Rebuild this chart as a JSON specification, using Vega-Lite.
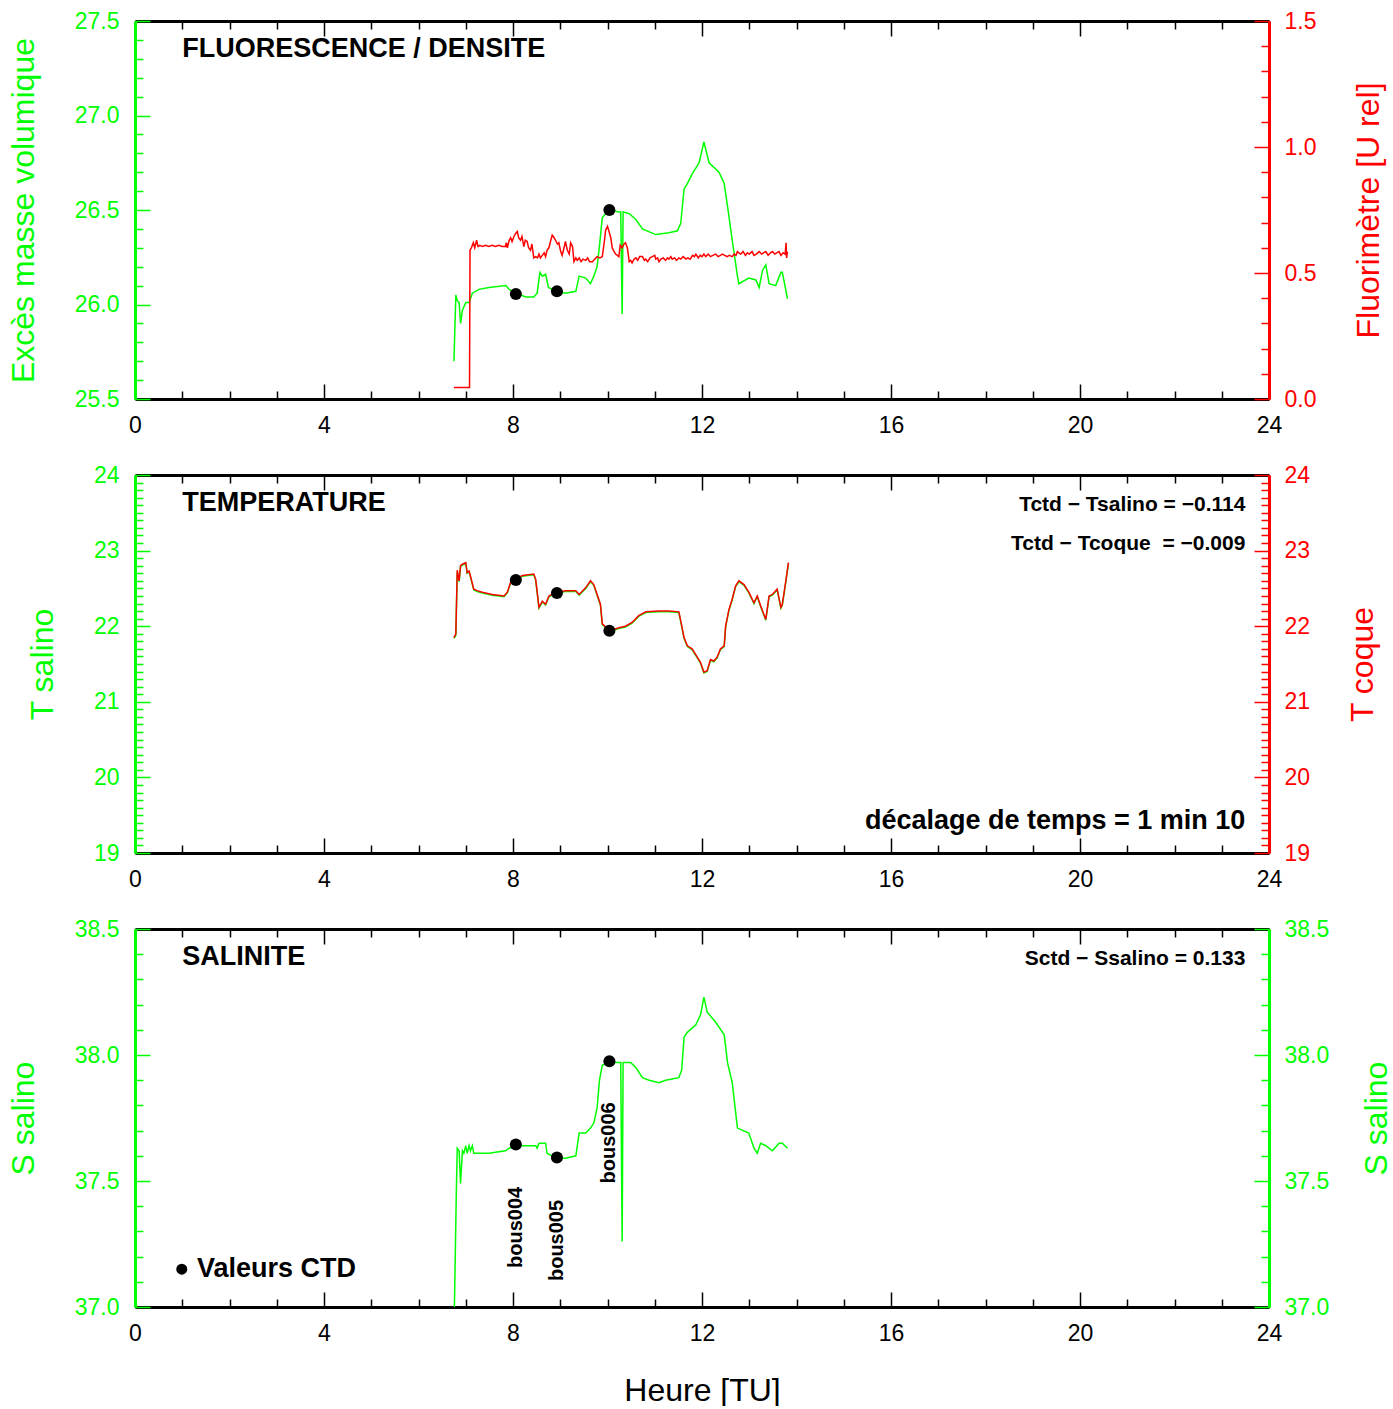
{
  "$schema": "https://vega.github.io/schema/vega-lite/v6.json",
  "padding": {"left": 7, "top": 10, "right": 0, "bottom": 0},
  "background": "white",
  "config": {
    "view": {"stroke": null},
    "axis": {"labelFont": "Liberation Sans", "labelFontSize": 23, "titleFont": "Liberation Sans", "titleFontSize": 32, "titleFontWeight": "normal", "grid": false, "labelFlush": false, "labelOverlap": false, "labelBound": false, "tickWidth": 1.5, "domainWidth": 3},
    "text": {"font": "Liberation Sans", "fontWeight": "bold", "color": "black", "baseline": "middle"}
  },
  "datasets": {
    "dens": [
      {"h": 6.75, "v": 25.70}, {"h": 6.79, "v": 26.05}, {"h": 6.82, "v": 26.02}, {"h": 6.86, "v": 26.01}, {"h": 6.89, "v": 25.90},
      {"h": 6.93, "v": 25.97}, {"h": 7.00, "v": 26.01}, {"h": 7.07, "v": 26.01}, {"h": 7.14, "v": 26.06}, {"h": 7.28, "v": 26.08},
      {"h": 7.49, "v": 26.09}, {"h": 7.85, "v": 26.10}, {"h": 7.92, "v": 26.08}, {"h": 8.06, "v": 26.06}, {"h": 8.27, "v": 26.04},
      {"h": 8.44, "v": 26.04}, {"h": 8.51, "v": 26.06}, {"h": 8.57, "v": 26.17}, {"h": 8.62, "v": 26.15}, {"h": 8.69, "v": 26.16},
      {"h": 8.75, "v": 26.09}, {"h": 8.83, "v": 26.08}, {"h": 8.92, "v": 26.07}, {"h": 9.11, "v": 26.06}, {"h": 9.33, "v": 26.07},
      {"h": 9.40, "v": 26.15}, {"h": 9.54, "v": 26.14}, {"h": 9.64, "v": 26.11}, {"h": 9.71, "v": 26.15}, {"h": 9.78, "v": 26.20},
      {"h": 9.83, "v": 26.31}, {"h": 9.89, "v": 26.46}, {"h": 9.96, "v": 26.48}, {"h": 10.05, "v": 26.50}, {"h": 10.24, "v": 26.49},
      {"h": 10.28, "v": 26.49}, {"h": 10.31, "v": 25.95}, {"h": 10.33, "v": 26.49}, {"h": 10.46, "v": 26.48}, {"h": 10.60, "v": 26.45},
      {"h": 10.74, "v": 26.40}, {"h": 11.02, "v": 26.37}, {"h": 11.30, "v": 26.38}, {"h": 11.48, "v": 26.39}, {"h": 11.55, "v": 26.43},
      {"h": 11.62, "v": 26.61}, {"h": 11.69, "v": 26.64}, {"h": 11.79, "v": 26.69}, {"h": 11.94, "v": 26.75}, {"h": 12.04, "v": 26.86},
      {"h": 12.15, "v": 26.75}, {"h": 12.36, "v": 26.70}, {"h": 12.47, "v": 26.64}, {"h": 12.54, "v": 26.52}, {"h": 12.64, "v": 26.34},
      {"h": 12.75, "v": 26.15}, {"h": 12.78, "v": 26.11}, {"h": 12.99, "v": 26.14}, {"h": 13.14, "v": 26.13}, {"h": 13.21, "v": 26.09},
      {"h": 13.28, "v": 26.18}, {"h": 13.35, "v": 26.21}, {"h": 13.42, "v": 26.11}, {"h": 13.56, "v": 26.10}, {"h": 13.67, "v": 26.17},
      {"h": 13.70, "v": 26.17}, {"h": 13.81, "v": 26.03}
    ],
    "fluo": [
      {"h": 6.75, "v": 0.046}, {"h": 7.08, "v": 0.046}, {"h": 7.09, "v": 0.59}, {"h": 7.12, "v": 0.60}, {"h": 7.16, "v": 0.62},
      {"h": 7.19, "v": 0.60}, {"h": 7.23, "v": 0.63}, {"h": 7.26, "v": 0.605}, {"h": 7.30, "v": 0.61}, {"h": 7.35, "v": 0.605},
      {"h": 7.42, "v": 0.61}, {"h": 7.49, "v": 0.605}, {"h": 7.56, "v": 0.61}, {"h": 7.63, "v": 0.605}, {"h": 7.70, "v": 0.61},
      {"h": 7.77, "v": 0.605}, {"h": 7.84, "v": 0.605}, {"h": 7.86, "v": 0.62}, {"h": 7.88, "v": 0.60}, {"h": 7.92, "v": 0.63},
      {"h": 7.95, "v": 0.64}, {"h": 7.98, "v": 0.625}, {"h": 8.02, "v": 0.645}, {"h": 8.05, "v": 0.655}, {"h": 8.09, "v": 0.665},
      {"h": 8.12, "v": 0.64}, {"h": 8.16, "v": 0.63}, {"h": 8.19, "v": 0.645}, {"h": 8.23, "v": 0.605}, {"h": 8.26, "v": 0.63},
      {"h": 8.30, "v": 0.625}, {"h": 8.33, "v": 0.60}, {"h": 8.37, "v": 0.59}, {"h": 8.40, "v": 0.615}, {"h": 8.44, "v": 0.56},
      {"h": 8.48, "v": 0.565}, {"h": 8.52, "v": 0.56}, {"h": 8.55, "v": 0.575}, {"h": 8.58, "v": 0.56}, {"h": 8.62, "v": 0.57},
      {"h": 8.66, "v": 0.58}, {"h": 8.69, "v": 0.565}, {"h": 8.72, "v": 0.59}, {"h": 8.76, "v": 0.60}, {"h": 8.80, "v": 0.63},
      {"h": 8.83, "v": 0.65}, {"h": 8.87, "v": 0.64}, {"h": 8.90, "v": 0.63}, {"h": 8.94, "v": 0.615}, {"h": 8.97, "v": 0.62},
      {"h": 9.01, "v": 0.585}, {"h": 9.04, "v": 0.57}, {"h": 9.08, "v": 0.60}, {"h": 9.11, "v": 0.625}, {"h": 9.15, "v": 0.59},
      {"h": 9.19, "v": 0.575}, {"h": 9.22, "v": 0.62}, {"h": 9.26, "v": 0.605}, {"h": 9.29, "v": 0.545}, {"h": 9.33, "v": 0.56},
      {"h": 9.36, "v": 0.55}, {"h": 9.40, "v": 0.56}, {"h": 9.44, "v": 0.545}, {"h": 9.48, "v": 0.555}, {"h": 9.54, "v": 0.55},
      {"h": 9.58, "v": 0.56}, {"h": 9.62, "v": 0.545}, {"h": 9.68, "v": 0.545}, {"h": 9.73, "v": 0.555}, {"h": 9.78, "v": 0.565},
      {"h": 9.84, "v": 0.56}, {"h": 9.89, "v": 0.565}, {"h": 9.93, "v": 0.62}, {"h": 9.96, "v": 0.67}, {"h": 10.00, "v": 0.685},
      {"h": 10.04, "v": 0.66}, {"h": 10.07, "v": 0.64}, {"h": 10.10, "v": 0.60}, {"h": 10.14, "v": 0.585}, {"h": 10.17, "v": 0.575},
      {"h": 10.21, "v": 0.57}, {"h": 10.24, "v": 0.565}, {"h": 10.27, "v": 0.61}, {"h": 10.31, "v": 0.60}, {"h": 10.35, "v": 0.615},
      {"h": 10.38, "v": 0.62}, {"h": 10.42, "v": 0.60}, {"h": 10.46, "v": 0.545}, {"h": 10.49, "v": 0.55}, {"h": 10.52, "v": 0.54},
      {"h": 10.56, "v": 0.555}, {"h": 10.60, "v": 0.56}, {"h": 10.64, "v": 0.55}, {"h": 10.68, "v": 0.565}, {"h": 10.74, "v": 0.565},
      {"h": 10.78, "v": 0.55}, {"h": 10.81, "v": 0.555}, {"h": 10.85, "v": 0.545}, {"h": 10.90, "v": 0.56}, {"h": 10.95, "v": 0.565},
      {"h": 11.00, "v": 0.57}, {"h": 11.02, "v": 0.555}, {"h": 11.06, "v": 0.56}, {"h": 11.09, "v": 0.545}, {"h": 11.13, "v": 0.555},
      {"h": 11.18, "v": 0.56}, {"h": 11.23, "v": 0.55}, {"h": 11.27, "v": 0.56}, {"h": 11.30, "v": 0.555}, {"h": 11.34, "v": 0.565},
      {"h": 11.37, "v": 0.555}, {"h": 11.42, "v": 0.56}, {"h": 11.46, "v": 0.55}, {"h": 11.51, "v": 0.56}, {"h": 11.55, "v": 0.555},
      {"h": 11.60, "v": 0.565}, {"h": 11.66, "v": 0.555}, {"h": 11.70, "v": 0.56}, {"h": 11.75, "v": 0.555}, {"h": 11.80, "v": 0.57},
      {"h": 11.84, "v": 0.565}, {"h": 11.87, "v": 0.575}, {"h": 11.92, "v": 0.56}, {"h": 11.96, "v": 0.57}, {"h": 12.00, "v": 0.565},
      {"h": 12.04, "v": 0.575}, {"h": 12.08, "v": 0.565}, {"h": 12.13, "v": 0.575}, {"h": 12.18, "v": 0.565}, {"h": 12.23, "v": 0.57},
      {"h": 12.29, "v": 0.575}, {"h": 12.34, "v": 0.565}, {"h": 12.39, "v": 0.57}, {"h": 12.43, "v": 0.575}, {"h": 12.48, "v": 0.57},
      {"h": 12.53, "v": 0.565}, {"h": 12.58, "v": 0.57}, {"h": 12.64, "v": 0.565}, {"h": 12.68, "v": 0.575}, {"h": 12.72, "v": 0.57},
      {"h": 12.75, "v": 0.585}, {"h": 12.78, "v": 0.58}, {"h": 12.82, "v": 0.575}, {"h": 12.87, "v": 0.585}, {"h": 12.92, "v": 0.57},
      {"h": 12.96, "v": 0.58}, {"h": 13.00, "v": 0.575}, {"h": 13.06, "v": 0.585}, {"h": 13.10, "v": 0.57}, {"h": 13.15, "v": 0.575},
      {"h": 13.21, "v": 0.585}, {"h": 13.26, "v": 0.575}, {"h": 13.30, "v": 0.58}, {"h": 13.35, "v": 0.585}, {"h": 13.40, "v": 0.57},
      {"h": 13.45, "v": 0.58}, {"h": 13.49, "v": 0.585}, {"h": 13.54, "v": 0.575}, {"h": 13.58, "v": 0.58}, {"h": 13.63, "v": 0.585},
      {"h": 13.67, "v": 0.57}, {"h": 13.72, "v": 0.58}, {"h": 13.76, "v": 0.575}, {"h": 13.78, "v": 0.62}, {"h": 13.79, "v": 0.56},
      {"h": 13.81, "v": 0.585}
    ],
    "temp": [
      {"h": 6.75, "ts": 21.84, "tc": 21.85}, {"h": 6.79, "ts": 21.88, "tc": 21.90}, {"h": 6.82, "ts": 22.72, "tc": 22.74},
      {"h": 6.86, "ts": 22.59, "tc": 22.60}, {"h": 6.89, "ts": 22.79, "tc": 22.80}, {"h": 6.93, "ts": 22.81, "tc": 22.82},
      {"h": 7.00, "ts": 22.83, "tc": 22.84}, {"h": 7.03, "ts": 22.70, "tc": 22.71}, {"h": 7.07, "ts": 22.72, "tc": 22.73},
      {"h": 7.10, "ts": 22.65, "tc": 22.66}, {"h": 7.17, "ts": 22.48, "tc": 22.49}, {"h": 7.24, "ts": 22.46, "tc": 22.47},
      {"h": 7.35, "ts": 22.44, "tc": 22.45}, {"h": 7.56, "ts": 22.41, "tc": 22.42}, {"h": 7.81, "ts": 22.39, "tc": 22.40},
      {"h": 7.88, "ts": 22.44, "tc": 22.45}, {"h": 7.95, "ts": 22.57, "tc": 22.58}, {"h": 8.06, "ts": 22.61, "tc": 22.62},
      {"h": 8.20, "ts": 22.66, "tc": 22.67}, {"h": 8.44, "ts": 22.68, "tc": 22.69}, {"h": 8.48, "ts": 22.61, "tc": 22.62},
      {"h": 8.55, "ts": 22.24, "tc": 22.25}, {"h": 8.62, "ts": 22.32, "tc": 22.33}, {"h": 8.69, "ts": 22.28, "tc": 22.29},
      {"h": 8.76, "ts": 22.39, "tc": 22.40}, {"h": 8.92, "ts": 22.44, "tc": 22.45}, {"h": 9.11, "ts": 22.46, "tc": 22.47},
      {"h": 9.33, "ts": 22.46, "tc": 22.47}, {"h": 9.40, "ts": 22.41, "tc": 22.42}, {"h": 9.54, "ts": 22.50, "tc": 22.51},
      {"h": 9.64, "ts": 22.59, "tc": 22.60}, {"h": 9.71, "ts": 22.54, "tc": 22.55}, {"h": 9.78, "ts": 22.41, "tc": 22.42},
      {"h": 9.85, "ts": 22.28, "tc": 22.29}, {"h": 9.89, "ts": 22.02, "tc": 22.03}, {"h": 10.05, "ts": 21.93, "tc": 21.94},
      {"h": 10.24, "ts": 21.97, "tc": 21.98}, {"h": 10.38, "ts": 21.99, "tc": 22.00}, {"h": 10.52, "ts": 22.04, "tc": 22.05},
      {"h": 10.66, "ts": 22.13, "tc": 22.14}, {"h": 10.81, "ts": 22.18, "tc": 22.19}, {"h": 11.09, "ts": 22.19, "tc": 22.20},
      {"h": 11.30, "ts": 22.19, "tc": 22.20}, {"h": 11.51, "ts": 22.18, "tc": 22.19}, {"h": 11.55, "ts": 22.06, "tc": 22.07},
      {"h": 11.62, "ts": 21.84, "tc": 21.85}, {"h": 11.69, "ts": 21.73, "tc": 21.74}, {"h": 11.79, "ts": 21.69, "tc": 21.70},
      {"h": 11.90, "ts": 21.58, "tc": 21.59}, {"h": 11.97, "ts": 21.51, "tc": 21.52}, {"h": 12.04, "ts": 21.38, "tc": 21.39},
      {"h": 12.11, "ts": 21.40, "tc": 21.41}, {"h": 12.18, "ts": 21.55, "tc": 21.56}, {"h": 12.25, "ts": 21.53, "tc": 21.54},
      {"h": 12.32, "ts": 21.58, "tc": 21.59}, {"h": 12.39, "ts": 21.69, "tc": 21.70}, {"h": 12.47, "ts": 21.73, "tc": 21.74},
      {"h": 12.50, "ts": 21.99, "tc": 22.00}, {"h": 12.57, "ts": 22.21, "tc": 22.22}, {"h": 12.64, "ts": 22.35, "tc": 22.36},
      {"h": 12.71, "ts": 22.52, "tc": 22.53}, {"h": 12.78, "ts": 22.59, "tc": 22.60}, {"h": 12.89, "ts": 22.54, "tc": 22.55},
      {"h": 12.99, "ts": 22.44, "tc": 22.45}, {"h": 13.10, "ts": 22.30, "tc": 22.31}, {"h": 13.17, "ts": 22.39, "tc": 22.40},
      {"h": 13.24, "ts": 22.26, "tc": 22.27}, {"h": 13.35, "ts": 22.08, "tc": 22.09}, {"h": 13.42, "ts": 22.39, "tc": 22.40},
      {"h": 13.49, "ts": 22.41, "tc": 22.42}, {"h": 13.56, "ts": 22.46, "tc": 22.47}, {"h": 13.59, "ts": 22.48, "tc": 22.49},
      {"h": 13.67, "ts": 22.24, "tc": 22.25}, {"h": 13.70, "ts": 22.28, "tc": 22.29}, {"h": 13.77, "ts": 22.57, "tc": 22.58},
      {"h": 13.83, "ts": 22.83, "tc": 22.84}
    ],
    "sal": [
      {"h": 6.76, "s": 37.00}, {"h": 6.80, "s": 37.45}, {"h": 6.82, "s": 37.63}, {"h": 6.86, "s": 37.62}, {"h": 6.89, "s": 37.49},
      {"h": 6.93, "s": 37.62}, {"h": 6.96, "s": 37.61}, {"h": 7.00, "s": 37.64}, {"h": 7.03, "s": 37.61}, {"h": 7.07, "s": 37.64},
      {"h": 7.10, "s": 37.62}, {"h": 7.14, "s": 37.64}, {"h": 7.17, "s": 37.61}, {"h": 7.49, "s": 37.61}, {"h": 7.84, "s": 37.62},
      {"h": 7.92, "s": 37.63}, {"h": 8.06, "s": 37.64}, {"h": 8.27, "s": 37.64}, {"h": 8.48, "s": 37.64}, {"h": 8.51, "s": 37.63},
      {"h": 8.55, "s": 37.65}, {"h": 8.69, "s": 37.65}, {"h": 8.72, "s": 37.61}, {"h": 8.92, "s": 37.59}, {"h": 9.11, "s": 37.59},
      {"h": 9.33, "s": 37.60}, {"h": 9.40, "s": 37.69}, {"h": 9.54, "s": 37.69}, {"h": 9.64, "s": 37.71}, {"h": 9.71, "s": 37.73},
      {"h": 9.78, "s": 37.79}, {"h": 9.83, "s": 37.90}, {"h": 9.89, "s": 37.96}, {"h": 10.05, "s": 37.97}, {"h": 10.24, "s": 37.97},
      {"h": 10.28, "s": 37.97}, {"h": 10.31, "s": 37.26}, {"h": 10.33, "s": 37.97}, {"h": 10.49, "s": 37.97}, {"h": 10.60, "s": 37.95},
      {"h": 10.74, "s": 37.91}, {"h": 10.88, "s": 37.90}, {"h": 11.09, "s": 37.89}, {"h": 11.23, "s": 37.90}, {"h": 11.51, "s": 37.91},
      {"h": 11.57, "s": 37.94}, {"h": 11.62, "s": 38.07}, {"h": 11.69, "s": 38.09}, {"h": 11.87, "s": 38.12}, {"h": 11.97, "s": 38.16},
      {"h": 12.04, "s": 38.23}, {"h": 12.11, "s": 38.17}, {"h": 12.29, "s": 38.13}, {"h": 12.47, "s": 38.08}, {"h": 12.54, "s": 37.97},
      {"h": 12.64, "s": 37.89}, {"h": 12.75, "s": 37.71}, {"h": 12.99, "s": 37.69}, {"h": 13.10, "s": 37.63}, {"h": 13.17, "s": 37.61},
      {"h": 13.24, "s": 37.65}, {"h": 13.35, "s": 37.64}, {"h": 13.49, "s": 37.62}, {"h": 13.63, "s": 37.65}, {"h": 13.70, "s": 37.65},
      {"h": 13.81, "s": 37.63}
    ],
    "ctd": [
      {"name": "bous004", "h": 8.06, "dens": 26.056, "t": 22.61, "s": 37.645, "ly": 37.155},
      {"name": "bous005", "h": 8.93, "dens": 26.07, "t": 22.44, "s": 37.593, "ly": 37.103},
      {"name": "bous006", "h": 10.04, "dens": 26.50, "t": 21.94, "s": 37.975, "ly": 37.49}
    ],
    "titles": [
      {"panel": 1, "h": 1.0, "v": 27.35, "text": "FLUORESCENCE / DENSITE"},
      {"panel": 2, "h": 1.0, "v": 23.63, "text": "TEMPERATURE"},
      {"panel": 3, "h": 1.0, "v": 38.39, "text": "SALINITE"}
    ],
    "stats": [
      {"panel": 2, "h": 23.5, "v": 23.60, "text": "Tctd − Tsalino = −0.114"},
      {"panel": 2, "h": 23.5, "v": 23.09, "text": "Tctd − Tcoque\u00a0 = −0.009"},
      {"panel": 3, "h": 23.5, "v": 38.38, "text": "Sctd − Ssalino = 0.133"}
    ],
    "lag": [{"h": 23.5, "v": 19.42, "text": "décalage de temps = 1 min 10"}],
    "legdot": [{"h": 0.99, "v": 37.15}],
    "legtext": [{"h": 1.31, "v": 37.15, "text": "Valeurs CTD"}]
  },
  "vconcat": [
    {
      "width": 1134, "height": 378,
      "layer": [
        {
          "layer": [
            {
              "data": {"name": "dens"},
              "mark": {"type": "line", "color": "#00ff00", "strokeWidth": 1.5},
              "encoding": {
                "x": {"field": "h", "type": "quantitative", "scale": {"domain": [0, 24], "nice": false, "zero": false},
                  "axis": {"orient": "bottom", "values": [0, 4, 8, 12, 16, 20, 24], "ticks": false, "domain": true, "domainColor": "black", "labelColor": "black", "labelPadding": 15, "title": null}},
                "y": {"field": "v", "type": "quantitative", "scale": {"domain": [25.5, 27.5], "nice": false, "zero": false},
                  "axis": {"orient": "left", "values": [25.5, 26, 26.5, 27, 27.5], "format": ".1f", "ticks": false, "domain": true, "domainColor": "#00ff00", "labelColor": "#00ff00", "labelPadding": 16, "title": "Excès masse volumique", "titleColor": "#00ff00", "titlePadding": 34}}
              }
            },
            {
              "data": {"name": "ctd"},
              "mark": {"type": "point", "filled": true, "color": "black", "size": 145, "opacity": 1, "shape": "circle"},
              "encoding": {
                "x": {"field": "h", "type": "quantitative", "scale": {"domain": [0, 24], "nice": false, "zero": false},
                  "axis": {"orient": "bottom", "values": [0,1,2,3,4,5,6,7,8,9,10,11,12,13,14,15,16,17,18,19,20,21,22,23,24], "labels": false, "domain": false, "tickColor": "black", "tickSize": {"condition": {"test": "datum.value % 4 === 0", "value": -15}, "value": -8}, "title": null}},
                "y": {"field": "dens", "type": "quantitative", "scale": {"domain": [25.5, 27.5], "nice": false, "zero": false},
                  "axis": {"orient": "left", "values": [25.5,25.6,25.7,25.8,25.9,26,26.1,26.2,26.3,26.4,26.5,26.6,26.7,26.8,26.9,27,27.1,27.2,27.3,27.4,27.5], "labels": false, "domain": false, "tickColor": "#00ff00", "tickSize": {"condition": {"test": "abs(datum.value*2-round(datum.value*2))<0.001", "value": -15}, "value": -8}, "title": null}}
              }
            },
            {
              "data": {"name": "titles"},
              "transform": [{"filter": "datum.panel === 1"}],
              "mark": {"type": "text", "align": "left", "fontSize": 27},
              "encoding": {
                "x": {"field": "h", "type": "quantitative", "scale": {"domain": [0, 24], "nice": false, "zero": false},
                  "axis": {"orient": "top", "values": [0,1,2,3,4,5,6,7,8,9,10,11,12,13,14,15,16,17,18,19,20,21,22,23,24], "labels": false, "domain": true, "domainColor": "black", "tickColor": "black", "tickSize": {"condition": {"test": "datum.value % 4 === 0", "value": -15}, "value": -8}, "title": null}},
                "y": {"field": "v", "type": "quantitative", "scale": {"domain": [25.5, 27.5], "nice": false, "zero": false}, "axis": null},
                "text": {"field": "text"}
              }
            }
          ],
          "resolve": {"axis": {"x": "independent", "y": "independent"}}
        },
        {
          "layer": [
            {
              "data": {"name": "fluo"},
              "mark": {"type": "line", "color": "#ff0000", "strokeWidth": 1.5},
              "encoding": {
                "x": {"field": "h", "type": "quantitative", "scale": {"domain": [0, 24], "nice": false, "zero": false}, "axis": null},
                "y": {"field": "v", "type": "quantitative", "scale": {"domain": [0, 1.5], "nice": false, "zero": false},
                  "axis": {"orient": "right", "values": [0, 0.5, 1, 1.5], "format": ".1f", "ticks": false, "domain": true, "domainColor": "#ff0000", "labelColor": "#ff0000", "labelPadding": 15, "title": "Fluorimètre [U rel]", "titleColor": "#ff0000", "titleAngle": 270, "titleBaseline": "top", "titlePadding": 38}}
              }
            },
            {
              "data": {"name": "fluo"},
              "mark": {"type": "point", "opacity": 0},
              "encoding": {
                "x": {"field": "h", "type": "quantitative", "scale": {"domain": [0, 24], "nice": false, "zero": false}, "axis": null},
                "y": {"field": "v", "type": "quantitative", "scale": {"domain": [0, 1.5], "nice": false, "zero": false},
                  "axis": {"orient": "right", "values": [0,0.1,0.2,0.3,0.4,0.5,0.6,0.7,0.8,0.9,1,1.1,1.2,1.3,1.4,1.5], "labels": false, "domain": false, "tickColor": "#ff0000", "tickSize": {"condition": {"test": "abs(datum.value*2-round(datum.value*2))<0.001", "value": -15}, "value": -8}, "title": null}}
              }
            }
          ],
          "resolve": {"axis": {"y": "independent"}}
        }
      ],
      "resolve": {"scale": {"y": "independent"}, "axis": {"x": "independent", "y": "independent"}}
    },
    {
      "width": 1134, "height": 378,
      "layer": [
        {
          "layer": [
            {
              "data": {"name": "temp"},
              "mark": {"type": "line", "color": "#00ff00", "strokeWidth": 1.5},
              "encoding": {
                "x": {"field": "h", "type": "quantitative", "scale": {"domain": [0, 24], "nice": false, "zero": false},
                  "axis": {"orient": "bottom", "values": [0, 4, 8, 12, 16, 20, 24], "ticks": false, "domain": true, "domainColor": "black", "labelColor": "black", "labelPadding": 15, "title": null}},
                "y": {"field": "ts", "type": "quantitative", "scale": {"domain": [19, 24], "nice": false, "zero": false},
                  "axis": {"orient": "left", "values": [19, 20, 21, 22, 23, 24], "format": "d", "ticks": false, "domain": true, "domainColor": "#00ff00", "labelColor": "#00ff00", "labelPadding": 16, "title": "T salino", "titleColor": "#00ff00", "titlePadding": 34}}
              }
            },
            {
              "data": {"name": "titles"},
              "transform": [{"filter": "datum.panel === 2"}],
              "mark": {"type": "text", "align": "left", "fontSize": 27},
              "encoding": {
                "x": {"field": "h", "type": "quantitative", "scale": {"domain": [0, 24], "nice": false, "zero": false},
                  "axis": {"orient": "bottom", "values": [0,1,2,3,4,5,6,7,8,9,10,11,12,13,14,15,16,17,18,19,20,21,22,23,24], "labels": false, "domain": false, "tickColor": "black", "tickSize": {"condition": {"test": "datum.value % 4 === 0", "value": -15}, "value": -8}, "title": null}},
                "y": {"field": "v", "type": "quantitative", "scale": {"domain": [19, 24], "nice": false, "zero": false},
                  "axis": {"orient": "left", "values": [19,19.1,19.2,19.3,19.4,19.5,19.6,19.7,19.8,19.9,20,20.1,20.2,20.3,20.4,20.5,20.6,20.7,20.8,20.9,21,21.1,21.2,21.3,21.4,21.5,21.6,21.7,21.8,21.9,22,22.1,22.2,22.3,22.4,22.5,22.6,22.7,22.8,22.9,23,23.1,23.2,23.3,23.4,23.5,23.6,23.7,23.8,23.9,24], "labels": false, "domain": false, "tickColor": "#00ff00", "tickSize": {"condition": {"test": "abs(datum.value-round(datum.value))<0.001", "value": -15}, "value": -8}, "title": null}},
                "text": {"field": "text"}
              }
            },
            {
              "data": {"name": "stats"},
              "transform": [{"filter": "datum.panel === 2"}],
              "mark": {"type": "text", "align": "right", "fontSize": 21},
              "encoding": {
                "x": {"field": "h", "type": "quantitative", "scale": {"domain": [0, 24], "nice": false, "zero": false},
                  "axis": {"orient": "top", "values": [0,1,2,3,4,5,6,7,8,9,10,11,12,13,14,15,16,17,18,19,20,21,22,23,24], "labels": false, "domain": true, "domainColor": "black", "tickColor": "black", "tickSize": {"condition": {"test": "datum.value % 4 === 0", "value": -15}, "value": -8}, "title": null}},
                "y": {"field": "v", "type": "quantitative", "scale": {"domain": [19, 24], "nice": false, "zero": false}, "axis": null},
                "text": {"field": "text"}
              }
            },
            {
              "data": {"name": "lag"},
              "mark": {"type": "text", "align": "right", "fontSize": 27},
              "encoding": {
                "x": {"field": "h", "type": "quantitative", "scale": {"domain": [0, 24], "nice": false, "zero": false}, "axis": null},
                "y": {"field": "v", "type": "quantitative", "scale": {"domain": [19, 24], "nice": false, "zero": false}, "axis": null},
                "text": {"field": "text"}
              }
            }
          ],
          "resolve": {"axis": {"x": "independent", "y": "independent"}}
        },
        {
          "layer": [
            {
              "data": {"name": "temp"},
              "mark": {"type": "line", "color": "#ff0000", "strokeWidth": 1.5},
              "encoding": {
                "x": {"field": "h", "type": "quantitative", "scale": {"domain": [0, 24], "nice": false, "zero": false}, "axis": null},
                "y": {"field": "tc", "type": "quantitative", "scale": {"domain": [19, 24], "nice": false, "zero": false},
                  "axis": {"orient": "right", "values": [19, 20, 21, 22, 23, 24], "format": "d", "ticks": false, "domain": true, "domainColor": "#ff0000", "labelColor": "#ff0000", "labelPadding": 15, "title": "T coque", "titleColor": "#ff0000", "titleAngle": 270, "titleBaseline": "top", "titlePadding": 38}}
              }
            },
            {
              "data": {"name": "ctd"},
              "mark": {"type": "point", "filled": true, "color": "black", "size": 145, "opacity": 1, "shape": "circle"},
              "encoding": {
                "x": {"field": "h", "type": "quantitative", "scale": {"domain": [0, 24], "nice": false, "zero": false}, "axis": null},
                "y": {"field": "t", "type": "quantitative", "scale": {"domain": [19, 24], "nice": false, "zero": false},
                  "axis": {"orient": "right", "values": [19,19.1,19.2,19.3,19.4,19.5,19.6,19.7,19.8,19.9,20,20.1,20.2,20.3,20.4,20.5,20.6,20.7,20.8,20.9,21,21.1,21.2,21.3,21.4,21.5,21.6,21.7,21.8,21.9,22,22.1,22.2,22.3,22.4,22.5,22.6,22.7,22.8,22.9,23,23.1,23.2,23.3,23.4,23.5,23.6,23.7,23.8,23.9,24], "labels": false, "domain": false, "tickColor": "#ff0000", "tickSize": {"condition": {"test": "abs(datum.value-round(datum.value))<0.001", "value": -15}, "value": -8}, "title": null}}
              }
            }
          ],
          "resolve": {"axis": {"y": "independent"}}
        }
      ],
      "resolve": {"scale": {"y": "independent"}, "axis": {"x": "independent", "y": "independent"}}
    },
    {
      "width": 1134, "height": 378,
      "layer": [
        {
          "layer": [
            {
              "data": {"name": "sal"},
              "mark": {"type": "line", "color": "#00ff00", "strokeWidth": 1.5, "clip": true},
              "encoding": {
                "x": {"field": "h", "type": "quantitative", "scale": {"domain": [0, 24], "nice": false, "zero": false},
                  "axis": {"orient": "bottom", "values": [0, 4, 8, 12, 16, 20, 24], "ticks": false, "domain": true, "domainColor": "black", "labelColor": "black", "labelPadding": 15, "title": "Heure [TU]", "titleColor": "black", "titlePadding": 30}},
                "y": {"field": "s", "type": "quantitative", "scale": {"domain": [37, 38.5], "nice": false, "zero": false},
                  "axis": {"orient": "left", "values": [37, 37.5, 38, 38.5], "format": ".1f", "ticks": false, "domain": true, "domainColor": "#00ff00", "labelColor": "#00ff00", "labelPadding": 16, "title": "S salino", "titleColor": "#00ff00", "titlePadding": 34}}
              }
            },
            {
              "data": {"name": "ctd"},
              "mark": {"type": "text", "align": "left", "baseline": "middle", "angle": 270, "fontSize": 20},
              "encoding": {
                "x": {"field": "h", "type": "quantitative", "scale": {"domain": [0, 24], "nice": false, "zero": false},
                  "axis": {"orient": "bottom", "values": [0,1,2,3,4,5,6,7,8,9,10,11,12,13,14,15,16,17,18,19,20,21,22,23,24], "labels": false, "domain": false, "tickColor": "black", "tickSize": {"condition": {"test": "datum.value % 4 === 0", "value": -15}, "value": -8}, "title": null}},
                "y": {"field": "ly", "type": "quantitative", "scale": {"domain": [37, 38.5], "nice": false, "zero": false},
                  "axis": {"orient": "left", "values": [37,37.1,37.2,37.3,37.4,37.5,37.6,37.7,37.8,37.9,38,38.1,38.2,38.3,38.4,38.5], "labels": false, "domain": false, "tickColor": "#00ff00", "tickSize": {"condition": {"test": "abs(datum.value*2-round(datum.value*2))<0.001", "value": -15}, "value": -8}, "title": null}},
                "text": {"field": "name"}
              }
            },
            {
              "data": {"name": "titles"},
              "transform": [{"filter": "datum.panel === 3"}],
              "mark": {"type": "text", "align": "left", "fontSize": 27},
              "encoding": {
                "x": {"field": "h", "type": "quantitative", "scale": {"domain": [0, 24], "nice": false, "zero": false},
                  "axis": {"orient": "top", "values": [0,1,2,3,4,5,6,7,8,9,10,11,12,13,14,15,16,17,18,19,20,21,22,23,24], "labels": false, "domain": true, "domainColor": "black", "tickColor": "black", "tickSize": {"condition": {"test": "datum.value % 4 === 0", "value": -15}, "value": -8}, "title": null}},
                "y": {"field": "v", "type": "quantitative", "scale": {"domain": [37, 38.5], "nice": false, "zero": false}, "axis": null},
                "text": {"field": "text"}
              }
            },
            {
              "data": {"name": "stats"},
              "transform": [{"filter": "datum.panel === 3"}],
              "mark": {"type": "text", "align": "right", "fontSize": 21},
              "encoding": {
                "x": {"field": "h", "type": "quantitative", "scale": {"domain": [0, 24], "nice": false, "zero": false}, "axis": null},
                "y": {"field": "v", "type": "quantitative", "scale": {"domain": [37, 38.5], "nice": false, "zero": false}, "axis": null},
                "text": {"field": "text"}
              }
            },
            {
              "data": {"name": "legdot"},
              "mark": {"type": "point", "filled": true, "color": "black", "size": 120, "opacity": 1, "shape": "circle"},
              "encoding": {
                "x": {"field": "h", "type": "quantitative", "scale": {"domain": [0, 24], "nice": false, "zero": false}, "axis": null},
                "y": {"field": "v", "type": "quantitative", "scale": {"domain": [37, 38.5], "nice": false, "zero": false}, "axis": null}
              }
            },
            {
              "data": {"name": "legtext"},
              "mark": {"type": "text", "align": "left", "fontSize": 27},
              "encoding": {
                "x": {"field": "h", "type": "quantitative", "scale": {"domain": [0, 24], "nice": false, "zero": false}, "axis": null},
                "y": {"field": "v", "type": "quantitative", "scale": {"domain": [37, 38.5], "nice": false, "zero": false}, "axis": null},
                "text": {"field": "text"}
              }
            }
          ],
          "resolve": {"axis": {"x": "independent", "y": "independent"}}
        },
        {
          "layer": [
            {
              "data": {"name": "ctd"},
              "mark": {"type": "point", "filled": true, "color": "black", "size": 145, "opacity": 1, "shape": "circle"},
              "encoding": {
                "x": {"field": "h", "type": "quantitative", "scale": {"domain": [0, 24], "nice": false, "zero": false}, "axis": null},
                "y": {"field": "s", "type": "quantitative", "scale": {"domain": [37, 38.5], "nice": false, "zero": false},
                  "axis": {"orient": "right", "values": [37, 37.5, 38, 38.5], "format": ".1f", "ticks": false, "domain": true, "domainColor": "#00ff00", "labelColor": "#00ff00", "labelPadding": 15, "title": "S salino", "titleColor": "#00ff00", "titleAngle": 270, "titleBaseline": "top", "titlePadding": 33}}
              }
            },
            {
              "data": {"name": "ctd"},
              "mark": {"type": "point", "opacity": 0},
              "encoding": {
                "x": {"field": "h", "type": "quantitative", "scale": {"domain": [0, 24], "nice": false, "zero": false}, "axis": null},
                "y": {"field": "s", "type": "quantitative", "scale": {"domain": [37, 38.5], "nice": false, "zero": false},
                  "axis": {"orient": "right", "values": [37,37.1,37.2,37.3,37.4,37.5,37.6,37.7,37.8,37.9,38,38.1,38.2,38.3,38.4,38.5], "labels": false, "domain": false, "tickColor": "#00ff00", "tickSize": {"condition": {"test": "abs(datum.value*2-round(datum.value*2))<0.001", "value": -15}, "value": -8}, "title": null}}
              }
            }
          ],
          "resolve": {"axis": {"y": "independent"}}
        }
      ],
      "resolve": {"scale": {"y": "independent"}, "axis": {"x": "independent", "y": "independent"}}
    }
  ],
  "spacing": 76,
  "bounds": "flush"
}
